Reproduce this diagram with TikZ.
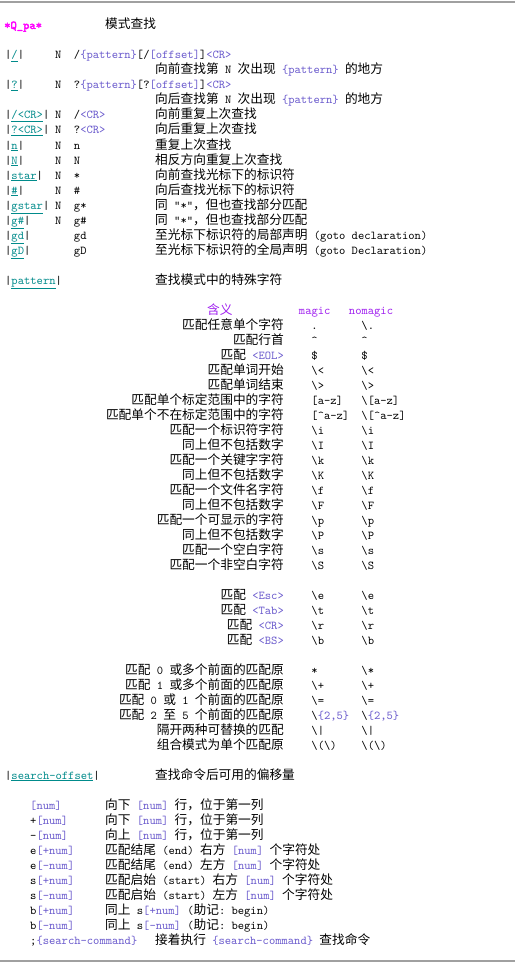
\documentclass[tikz,border=0pt]{standalone}
\usepackage{fontspec}
\setmonofont{lmmono10-regular.otf}[BoldFont=lmmono10-regular.otf, BoldFeatures={FakeBold=3}]
\newfontfamily\cjk{Noto Sans CJK SC}
\definecolor{hlmag}{HTML}{FF00FF}
\definecolor{hlteal}{HTML}{008B8B}
\definecolor{hlblue}{HTML}{6A5ACD}
\definecolor{hlpurple}{HTML}{A020F0}
\definecolor{rulegray}{HTML}{A0A0A0}
\newcommand{\zh}[1]{{\cjk\fontsize{12.7}{14}\selectfont #1}}
\newcommand{\blu}[1]{\textcolor{hlblue}{#1}}
\newcommand{\lnk}[1]{|\textcolor{hlteal}{\underline{#1}}|}
\tikzstyle{txt} = [anchor=base west, inner sep=0pt, font=\ttfamily\fontsize{12}{14}\selectfont]
\tikzstyle{rtxt} = [txt, anchor=base east]
\tikzstyle{hdr} = [txt, text=hlpurple]
\tikzstyle{hrule} = [draw=rulegray, line width=1.2pt]

\begin{document}
\begin{tikzpicture}[x=1pt, y=-1pt]
    \path[use as bounding box, fill=white] (0,0) rectangle (519,963);
    \coordinate (tl) at (0,2); \coordinate (tr) at (515,2);
    \coordinate (bl) at (0,961); \coordinate (br) at (515,961);
    \draw[hrule] (tl) -- (tr);
    \draw[hrule] (bl) -- (br);
    \node[txt, text=hlmag] (qpa) at (4,29) {\bfseries *Q\_pa*};
    \node[txt] (title) at (105,29) {\zh{模式查找}};
    \begin{scope}[y=-15pt, yshift=-59pt]
    % search commands
    \node[txt] (l0) at (5,0) {\lnk{/}};
    \node[txt] (n0) at (55,0) {N};
    \node[txt] (c0) at (73.75,0) {/\blu{\{pattern\}}[/\blu{[offset]}]\blu{<CR>}};
    \node[txt] (d0) at (155,1) {\zh{向前查找第} N \zh{次出现} \blu{\{pattern\}} \zh{的地方}};
    \node[txt] (l2) at (5,2) {\lnk{?}};
    \node[txt] (n2) at (55,2) {N};
    \node[txt] (c2) at (73.75,2) {?\blu{\{pattern\}}[?\blu{[offset]}]\blu{<CR>}};
    \node[txt] (d2) at (155,3) {\zh{向后查找第} N \zh{次出现} \blu{\{pattern\}} \zh{的地方}};
    \node[txt] (l4) at (5,4) {\lnk{/<CR>}};
    \node[txt] (n4) at (55,4) {N};
    \node[txt] (c4) at (73.75,4) {/\blu{<CR>}};
    \node[txt] (d4) at (155,4) {\zh{向前重复上次查找}};
    \node[txt] (l5) at (5,5) {\lnk{?<CR>}};
    \node[txt] (n5) at (55,5) {N};
    \node[txt] (c5) at (73.75,5) {?\blu{<CR>}};
    \node[txt] (d5) at (155,5) {\zh{向后重复上次查找}};
    \node[txt] (l6) at (5,6) {\lnk{n}};
    \node[txt] (n6) at (55,6) {N};
    \node[txt] (c6) at (73.75,6) {n};
    \node[txt] (d6) at (155,6) {\zh{重复上次查找}};
    \node[txt] (l7) at (5,7) {\lnk{N}};
    \node[txt] (n7) at (55,7) {N};
    \node[txt] (c7) at (73.75,7) {N};
    \node[txt] (d7) at (155,7) {\zh{相反方向重复上次查找}};
    \node[txt] (l8) at (5,8) {\lnk{star}};
    \node[txt] (n8) at (55,8) {N};
    \node[txt] (c8) at (73.75,8) {*};
    \node[txt] (d8) at (155,8) {\zh{向前查找光标下的标识符}};
    \node[txt] (l9) at (5,9) {\lnk{\#}};
    \node[txt] (n9) at (55,9) {N};
    \node[txt] (c9) at (73.75,9) {\#};
    \node[txt] (d9) at (155,9) {\zh{向后查找光标下的标识符}};
    \node[txt] (l10) at (5,10) {\lnk{gstar}};
    \node[txt] (n10) at (55,10) {N};
    \node[txt] (c10) at (73.75,10) {g*};
    \node[txt] (d10) at (155,10) {\zh{同} “*”\zh{，但也查找部分匹配}};
    \node[txt] (l11) at (5,11) {\lnk{g\#}};
    \node[txt] (n11) at (55,11) {N};
    \node[txt] (c11) at (73.75,11) {g\#};
    \node[txt] (d11) at (155,11) {\zh{同} “*”\zh{，但也查找部分匹配}};
    \node[txt] (l12) at (5,12) {\lnk{gd}};
    \node[txt] (c12) at (73.75,12) {gd};
    \node[txt] (d12) at (155,12) {\zh{至光标下标识符的局部声明} (goto declaration)};
    \node[txt] (l13) at (5,13) {\lnk{gD}};
    \node[txt] (c13) at (73.75,13) {gD};
    \node[txt] (d13) at (155,13) {\zh{至光标下标识符的全局声明} (goto Declaration)};
    \node[txt] (l15) at (5,15) {\lnk{pattern}};
    \node[txt] (d15) at (155,15) {\zh{查找模式中的特殊字符}};
    % pattern table
    \node[hdr] (h0) at (207,17) {\zh{含义}};
    \node[hdr] (h1) at (298.75,17) {magic};
    \node[hdr] (h2) at (348.75,17) {nomagic};
    \node[rtxt] (a18) at (284,18) {\zh{匹配任意单个字符}}; \node[txt] (m18) at (311.25,18) {.}; \node[txt] (v18) at (361.25,18) {\textbackslash.};
    \node[rtxt] (a19) at (284,19) {\zh{匹配行首}}; \node[txt] (m19) at (311.25,19) {\textasciicircum}; \node[txt] (v19) at (361.25,19) {\textasciicircum};
    \node[rtxt] (a20) at (284,20) {\zh{匹配} \blu{<EOL>}}; \node[txt] (m20) at (311.25,20) {\$}; \node[txt] (v20) at (361.25,20) {\$};
    \node[rtxt] (a21) at (284,21) {\zh{匹配单词开始}}; \node[txt] (m21) at (311.25,21) {\textbackslash<}; \node[txt] (v21) at (361.25,21) {\textbackslash<};
    \node[rtxt] (a22) at (284,22) {\zh{匹配单词结束}}; \node[txt] (m22) at (311.25,22) {\textbackslash>}; \node[txt] (v22) at (361.25,22) {\textbackslash>};
    \node[rtxt] (a23) at (284,23) {\zh{匹配单个标定范围中的字符}}; \node[txt] (m23) at (311.25,23) {[a-z]}; \node[txt] (v23) at (361.25,23) {\textbackslash[a-z]};
    \node[rtxt] (a24) at (284,24) {\zh{匹配单个不在标定范围中的字符}}; \node[txt] (m24) at (311.25,24) {[\textasciicircum a-z]}; \node[txt] (v24) at (361.25,24) {\textbackslash[\textasciicircum a-z]};
    \node[rtxt] (a25) at (284,25) {\zh{匹配一个标识符字符}}; \node[txt] (m25) at (311.25,25) {\textbackslash i}; \node[txt] (v25) at (361.25,25) {\textbackslash i};
    \node[rtxt] (a26) at (284,26) {\zh{同上但不包括数字}}; \node[txt] (m26) at (311.25,26) {\textbackslash I}; \node[txt] (v26) at (361.25,26) {\textbackslash I};
    \node[rtxt] (a27) at (284,27) {\zh{匹配一个关键字字符}}; \node[txt] (m27) at (311.25,27) {\textbackslash k}; \node[txt] (v27) at (361.25,27) {\textbackslash k};
    \node[rtxt] (a28) at (284,28) {\zh{同上但不包括数字}}; \node[txt] (m28) at (311.25,28) {\textbackslash K}; \node[txt] (v28) at (361.25,28) {\textbackslash K};
    \node[rtxt] (a29) at (284,29) {\zh{匹配一个文件名字符}}; \node[txt] (m29) at (311.25,29) {\textbackslash f}; \node[txt] (v29) at (361.25,29) {\textbackslash f};
    \node[rtxt] (a30) at (284,30) {\zh{同上但不包括数字}}; \node[txt] (m30) at (311.25,30) {\textbackslash F}; \node[txt] (v30) at (361.25,30) {\textbackslash F};
    \node[rtxt] (a31) at (284,31) {\zh{匹配一个可显示的字符}}; \node[txt] (m31) at (311.25,31) {\textbackslash p}; \node[txt] (v31) at (361.25,31) {\textbackslash p};
    \node[rtxt] (a32) at (284,32) {\zh{同上但不包括数字}}; \node[txt] (m32) at (311.25,32) {\textbackslash P}; \node[txt] (v32) at (361.25,32) {\textbackslash P};
    \node[rtxt] (a33) at (284,33) {\zh{匹配一个空白字符}}; \node[txt] (m33) at (311.25,33) {\textbackslash s}; \node[txt] (v33) at (361.25,33) {\textbackslash s};
    \node[rtxt] (a34) at (284,34) {\zh{匹配一个非空白字符}}; \node[txt] (m34) at (311.25,34) {\textbackslash S}; \node[txt] (v34) at (361.25,34) {\textbackslash S};
    \node[rtxt] (a36) at (284,36) {\zh{匹配} \blu{<Esc>}}; \node[txt] (m36) at (311.25,36) {\textbackslash e}; \node[txt] (v36) at (361.25,36) {\textbackslash e};
    \node[rtxt] (a37) at (284,37) {\zh{匹配} \blu{<Tab>}}; \node[txt] (m37) at (311.25,37) {\textbackslash t}; \node[txt] (v37) at (361.25,37) {\textbackslash t};
    \node[rtxt] (a38) at (284,38) {\zh{匹配} \blu{<CR>}}; \node[txt] (m38) at (311.25,38) {\textbackslash r}; \node[txt] (v38) at (361.25,38) {\textbackslash r};
    \node[rtxt] (a39) at (284,39) {\zh{匹配} \blu{<BS>}}; \node[txt] (m39) at (311.25,39) {\textbackslash b}; \node[txt] (v39) at (361.25,39) {\textbackslash b};
    \node[rtxt] (a41) at (284,41) {\zh{匹配} 0 \zh{或多个前面的匹配原}}; \node[txt] (m41) at (311.25,41) {*}; \node[txt] (v41) at (361.25,41) {\textbackslash*};
    \node[rtxt] (a42) at (284,42) {\zh{匹配} 1 \zh{或多个前面的匹配原}}; \node[txt] (m42) at (311.25,42) {\textbackslash+}; \node[txt] (v42) at (361.25,42) {\textbackslash+};
    \node[rtxt] (a43) at (284,43) {\zh{匹配} 0 \zh{或} 1 \zh{个前面的匹配原}}; \node[txt] (m43) at (311.25,43) {\textbackslash=}; \node[txt] (v43) at (361.25,43) {\textbackslash=};
    \node[rtxt] (a44) at (284,44) {\zh{匹配} 2 \zh{至} 5 \zh{个前面的匹配原}}; \node[txt] (m44) at (311.25,44) {\textbackslash\blu{\{2,5\}}}; \node[txt] (v44) at (361.25,44) {\textbackslash\blu{\{2,5\}}};
    \node[rtxt] (a45) at (284,45) {\zh{隔开两种可替换的匹配}}; \node[txt] (m45) at (311.25,45) {\textbackslash|}; \node[txt] (v45) at (361.25,45) {\textbackslash|};
    \node[rtxt] (a46) at (284,46) {\zh{组合模式为单个匹配原}}; \node[txt] (m46) at (311.25,46) {\textbackslash(\textbackslash)}; \node[txt] (v46) at (361.25,46) {\textbackslash(\textbackslash)};
    % offsets
    \node[txt] (l48) at (5,48) {\lnk{search-offset}};
    \node[txt] (d48) at (155,48) {\zh{查找命令后可用的偏移量}};
    \node[txt] (o50) at (30,50) {\blu{[num]}};
    \node[txt] (p50) at (105,50) {\zh{向下} \blu{[num]} \zh{行，位于第一列}};
    \node[txt] (o51) at (30,51) {+\blu{[num]}};
    \node[txt] (p51) at (105,51) {\zh{向下} \blu{[num]} \zh{行，位于第一列}};
    \node[txt] (o52) at (30,52) {-\blu{[num]}};
    \node[txt] (p52) at (105,52) {\zh{向上} \blu{[num]} \zh{行，位于第一列}};
    \node[txt] (o53) at (30,53) {e\blu{[+num]}};
    \node[txt] (p53) at (105,53) {\zh{匹配结尾} (end) \zh{右方} \blu{[num]} \zh{个字符处}};
    \node[txt] (o54) at (30,54) {e\blu{[-num]}};
    \node[txt] (p54) at (105,54) {\zh{匹配结尾} (end) \zh{左方} \blu{[num]} \zh{个字符处}};
    \node[txt] (o55) at (30,55) {s\blu{[+num]}};
    \node[txt] (p55) at (105,55) {\zh{匹配启始} (start) \zh{右方} \blu{[num]} \zh{个字符处}};
    \node[txt] (o56) at (30,56) {s\blu{[-num]}};
    \node[txt] (p56) at (105,56) {\zh{匹配启始} (start) \zh{左方} \blu{[num]} \zh{个字符处}};
    \node[txt] (o57) at (30,57) {b\blu{[+num]}};
    \node[txt] (p57) at (105,57) {\zh{同上} s\blu{[+num]} (\zh{助记}: begin)};
    \node[txt] (o58) at (30,58) {b\blu{[-num]}};
    \node[txt] (p58) at (105,58) {\zh{同上} s\blu{[-num]} (\zh{助记}: begin)};
    \node[txt] (o59) at (30,59) {;\blu{\{search-command\}}};
    \node[txt] (p59) at (155,59) {\zh{接着执行} \blu{\{search-command\}} \zh{查找命令}};
    \end{scope}
\end{tikzpicture}
\end{document}
